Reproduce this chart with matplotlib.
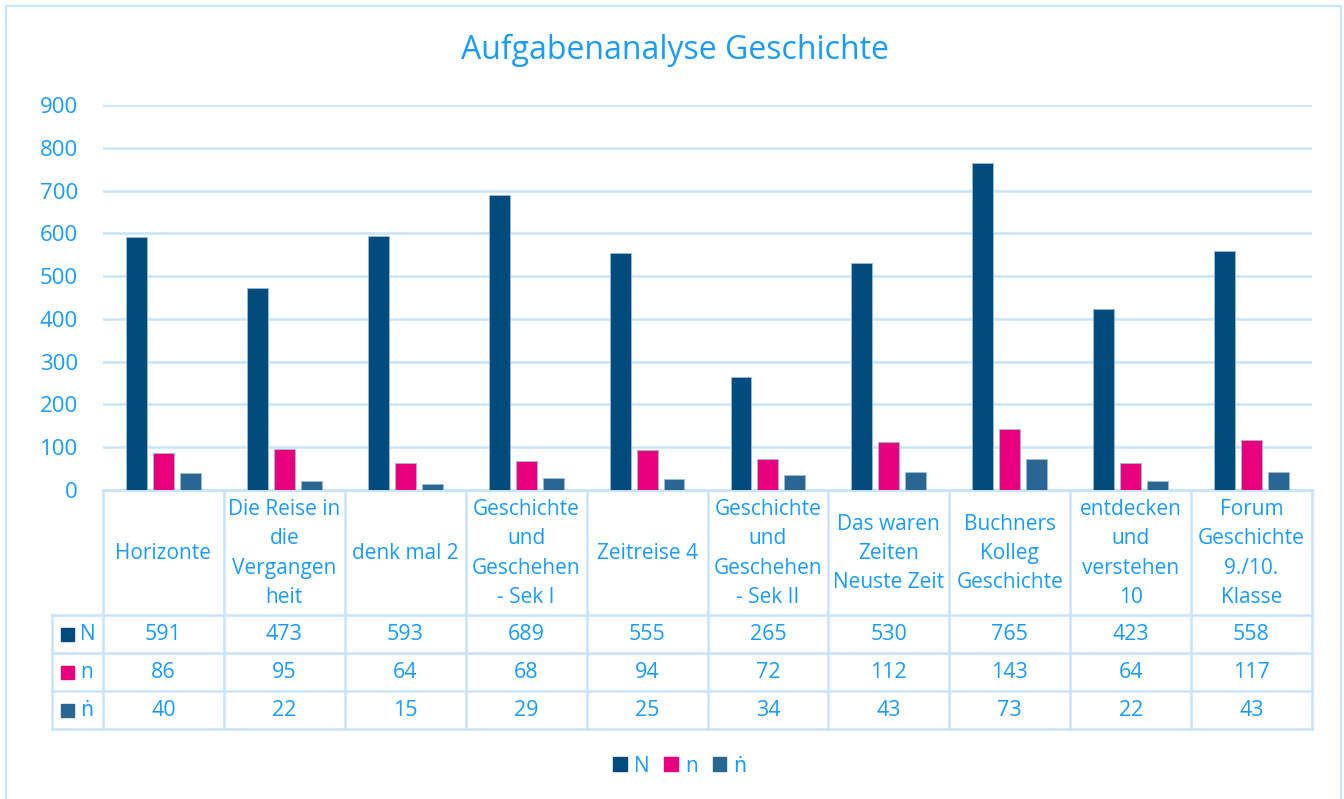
import numpy as np
import matplotlib
matplotlib.use("Agg")
import matplotlib.pyplot as plt
from matplotlib.patches import Rectangle, Patch

plt.rcParams['font.family'] = ['Open Sans', 'DejaVu Sans']

# ---- data ----
books = ["Horizonte", "Die Reise in\ndie\nVergangen\nheit", "denk mal 2",
         "Geschichte\nund\nGeschehen\n- Sek I", "Zeitreise 4",
         "Geschichte\nund\nGeschehen\n- Sek II", "Das waren\nZeiten\nNeuste Zeit",
         "Buchners\nKolleg\nGeschichte", "entdecken\nund\nverstehen\n10",
         "Forum\nGeschichte\n9./10.\nKlasse"]
series_names = ["N", "n", "ṅ"]
N_vals = [591, 473, 593, 689, 555, 265, 530, 765, 423, 558]
n_vals = [86, 95, 64, 68, 94, 72, 112, 143, 64, 117]
ndot_vals = [40, 22, 15, 29, 25, 34, 43, 73, 22, 43]
yticks = [0, 100, 200, 300, 400, 500, 600, 700, 800, 900]

colors = ["#034A7E", "#E6007E", "#2A6694"]
txt = "#1A9BFA"
grid = "#C6E4FB"

W, H = 1344, 799
fig = plt.figure(figsize=(W / 100, H / 100), dpi=100)

# layout in pixels
L, R = 103, 1312
TOP, BASE = 105, 490
ROW = 38
HEAD_BOTTOM = 615
KEY_LEFT = 52

def fx(px):
    return px / W

def fy(py):
    return 1 - py / H

ax = fig.add_axes([fx(L), fy(BASE), fx(R - L), fy(TOP) - fy(BASE)])
k = len(books)
x = np.arange(k)
bw, step = 0.173, 0.223
all_vals = [N_vals, n_vals, ndot_vals]
for j, (vals, c) in enumerate(zip(all_vals, colors)):
    ax.bar(x + (j - 1) * step, vals, width=bw, color=c, edgecolor="#9DBBD6",
           linewidth=0.6, zorder=3)

ax.set_xlim(-0.5, k - 0.5)
ax.set_ylim(0, 900)
ax.set_yticks(yticks)
ax.set_xticks([])
ax.tick_params(axis="y", length=0, pad=18, labelsize=16, labelcolor=txt)
ax.grid(axis="y", color=grid, linewidth=1.8, zorder=0)
for s in ["top", "right", "left"]:
    ax.spines[s].set_visible(False)
ax.spines["bottom"].set_color(grid)
ax.spines["bottom"].set_linewidth(1.8)

# ---- data table (drawn in pixel coords) ----
tab = fig.add_axes([0, 0, 1, 1], zorder=-1)
tab.set_xlim(0, W)
tab.set_ylim(H, 0)
tab.axis("off")
cw = (R - L) / k
lw = 1.8
rows_bottom = HEAD_BOTTOM + 3 * ROW

# horizontal lines
tab.plot([L, R], [BASE, BASE], color=grid, lw=lw)
for r in range(4):
    yy = HEAD_BOTTOM + r * ROW
    tab.plot([KEY_LEFT, R], [yy, yy], color=grid, lw=lw)
# vertical lines
for i in range(k + 1):
    tab.plot([L + i * cw] * 2, [BASE, rows_bottom], color=grid, lw=lw)
tab.plot([KEY_LEFT] * 2, [HEAD_BOTTOM, rows_bottom], color=grid, lw=lw)

for i, b in enumerate(books):
    tab.text(L + (i + 0.5) * cw, (BASE + HEAD_BOTTOM) / 2 + 1, b, ha="center",
             va="center", color=txt, fontsize=15, linespacing=1.53)

for r, (name, vals, c) in enumerate(zip(series_names, all_vals, colors)):
    yc = HEAD_BOTTOM + (r + 0.5) * ROW
    tab.add_patch(Rectangle((61, yc - 6.5), 13, 13, color=c))
    tab.text(80, yc + 1, name, ha="left", va="center", color=txt, fontsize=15)
    for i, v in enumerate(vals):
        tab.text(L + (i + 0.5) * cw, yc + 1, str(v), ha="center", va="center",
                 color=txt, fontsize=15.5)

# outer chart border
tab.add_patch(Rectangle((6, 6), 1335, 820, fill=False, edgecolor=grid, lw=1.5))

fig.text(fx(675), fy(50), "Aufgabenanalyse Geschichte", ha="center", va="center",
         color=txt, fontsize=23)

handles = [Patch(color=c, label=nm) for nm, c in zip(series_names, colors)]
fig.legend(handles=handles, loc="center", bbox_to_anchor=(fx(680), fy(766)), ncol=3,
           frameon=False, fontsize=15, labelcolor=txt, handlelength=0.65,
           handleheight=0.65, handletextpad=0.35, columnspacing=0.7)

fig.savefig("out.png", dpi=100)
